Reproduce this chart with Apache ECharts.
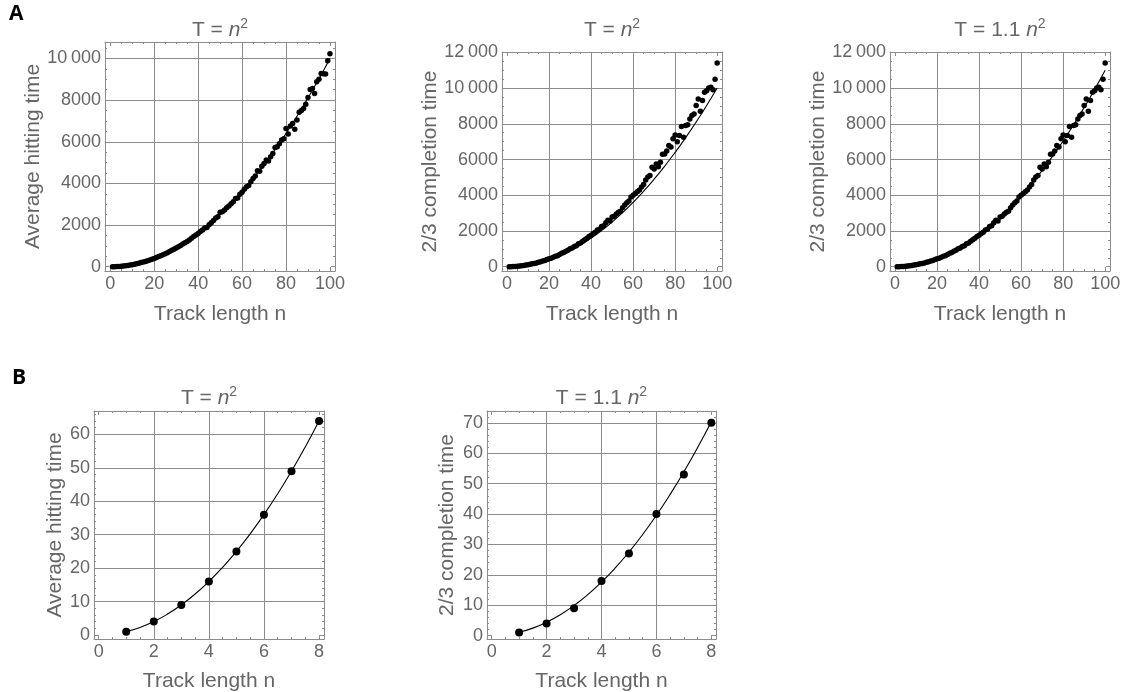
<!doctype html>
<html>
<head>
<meta charset="utf-8">
<title>Hitting and completion time vs track length</title>
<style>
  html, body { margin: 0; padding: 0; background: #fff; }
  #main { width: 1122px; height: 692px; }
</style>
</head>
<body>
<div id="main"></div>
<script src="https://cdn.jsdelivr.net/npm/echarts@6.0.0/dist/echarts.min.js"></script>
<script>
var chart = echarts.init(document.getElementById('main'));

// ---- data ----
var trackLength = [1, 2, 3, 4, 5, 6, 7, 8, 9, 10, 11, 12, 13, 14, 15, 16, 17, 18, 19, 20,
    21, 22, 23, 24, 25, 26, 27, 28, 29, 30, 31, 32, 33, 34, 35, 36, 37, 38, 39, 40,
    41, 42, 43, 44, 45, 46, 47, 48, 49, 50, 51, 52, 53, 54, 55, 56, 57, 58, 59, 60,
    61, 62, 63, 64, 65, 66, 67, 68, 69, 70, 71, 72, 73, 74, 75, 76, 77, 78, 79, 80,
    81, 82, 83, 84, 85, 86, 87, 88, 89, 90, 91, 92, 93, 94, 95, 96, 97, 98, 99, 100];
var hittingTime = [1, 4, 9, 16, 25, 36, 49, 64, 81, 100, 121, 145, 168, 197, 226, 256, 290, 322, 362, 398,
    442, 486, 528, 575, 626, 674, 730, 786, 838, 903, 960, 1022, 1085, 1152, 1215, 1282, 1365, 1448, 1526, 1598,
    1690, 1762, 1860, 1880, 2010, 2110, 2215, 2335, 2400, 2610, 2640, 2720, 2830, 2920, 3020, 3120, 3280, 3300, 3480, 3580,
    3720, 3840, 3900, 4080, 4230, 4350, 4610, 4580, 4820, 4950, 5120, 5080, 5280, 5440, 5730, 5760, 5900, 6080, 6150, 6640,
    6370, 6760, 6880, 6600, 7040, 7420, 7500, 7600, 7800, 8130, 8510, 8560, 8320, 8880, 9000, 9280, 9260, 9250, 9890, 10230];
var completionTime = [1, 4, 9, 18, 27, 40, 53, 70, 89, 110, 133, 160, 186, 214, 250, 280, 320, 352, 400, 440,
    480, 535, 580, 620, 690, 750, 800, 865, 920, 1000, 1050, 1130, 1180, 1280, 1330, 1420, 1510, 1600, 1690, 1760,
    1860, 1930, 2060, 2100, 2250, 2300, 2460, 2600, 2560, 2780, 2820, 2950, 3050, 3100, 3300, 3460, 3580, 3680, 3900, 4000,
    4100, 4190, 4300, 4460, 4600, 4850, 5020, 5100, 5570, 5470, 5750, 5600, 5850, 6300, 6310, 6480, 6780, 6700, 7160, 7370,
    7000, 7350, 7850, 7250, 7900, 7950, 8270, 8460, 8550, 9020, 9390, 8700, 9300, 9760, 9850, 10000, 10050, 9900, 10500, 11400];

var trackLengthShort = [1, 2, 3, 4, 5, 6, 7, 8];
var hittingTimeShort = [1, 4, 9, 16, 25, 36, 49, 64];
var completionTimeShort = [1, 4, 9, 18, 27, 40, 53, 70];

// reference curves T = n^2 and T = 1.1 n^2
var curveN = [0, 5, 10, 15, 20, 25, 30, 35, 40, 45, 50, 55, 60, 65, 70, 75, 80, 85, 90, 95, 100];
var curveSquare = [0, 25, 100, 225, 400, 625, 900, 1225, 1600, 2025, 2500, 3025, 3600, 4225, 4900, 5625, 6400, 7225, 8100, 9025, 10000];
var curveSquare11 = [0, 27.5, 110, 247.5, 440, 687.5, 990, 1347.5, 1760, 2227.5, 2750, 3327.5, 3960, 4647.5, 5390, 6187.5, 7040, 7947.5, 8910, 9927.5, 11000];
var curveNShort = [1, 1.5, 2, 2.5, 3, 3.5, 4, 4.5, 5, 5.5, 6, 6.5, 7, 7.5, 8];
var curveSquareShort = [1, 2.25, 4, 6.25, 9, 12.25, 16, 20.25, 25, 30.25, 36, 42.25, 49, 56.25, 64];
var curveSquare11Short = [1.1, 2.475, 4.4, 6.875, 9.9, 13.475, 17.6, 22.275, 27.5, 33.275, 39.6, 46.475, 53.9, 61.875, 70.4];

// tick labels
var xTicksLong = [0, 20, 40, 60, 80, 100];
var yTicksHitting = [0, 2000, 4000, 6000, 8000, 10000];
var yTicksCompletion = [0, 2000, 4000, 6000, 8000, 10000, 12000];
var xTicksShort = [0, 2, 4, 6, 8];
var yTicksHittingShort = [0, 10, 20, 30, 40, 50, 60];
var yTicksCompletionShort = [0, 10, 20, 30, 40, 50, 60, 70];

// ---- styling ----
var FONT = '"Liberation Sans", Arial, sans-serif';
var TEXT = '#666';
var FRAME = '#8c8c8c';
var GRIDC = '#8c8c8c';
var TITLE_SQ = '{t|T = }{i|n}{s|2}';
var TITLE_SQ11 = '{t|T = 1.1 }{i|n}{s|2}';

function stepValues(min, max, step) {
    var out = [];
    for (var k = Math.ceil(min / step - 1e-9); k * step <= max + 1e-9; k++) {
        out.push(+(k * step).toFixed(6));
    }
    return out;
}
function pairs(xs, ys) {
    return xs.map(function (x, k) { return [x, ys[k]]; });
}
function fmt(v) {
    return v >= 10000 ? String(v).replace(/(\d{3})$/, '\u2009$1') : String(v);
}

var panels = [
    { left: 105, top: 42, width: 230, height: 229, x: [-2.4, 102.3], y: [-206, 10790],
      xTicks: xTicksLong, yTicks: yTicksHitting, xMinor: 5, yMinor: 500,
      yName: 'Average hitting time', yGap: 60, xGap: 33, title: TITLE_SQ, titleTop: 17,
      dots: pairs(trackLength, hittingTime), curve: pairs(curveN, curveSquare), dot: 5.5 },
    { left: 502, top: 52, width: 220, height: 219, x: [-2.4, 102.3], y: [-240, 12020],
      xTicks: xTicksLong, yTicks: yTicksCompletion, xMinor: 5, yMinor: 500,
      yName: '2/3 completion time', yGap: 58, xGap: 33, title: TITLE_SQ, titleTop: 17,
      dots: pairs(trackLength, completionTime), curve: pairs(curveN, curveSquare), dot: 5.5 },
    { left: 890, top: 52, width: 220, height: 219, x: [-2.4, 102.3], y: [-240, 12020],
      xTicks: xTicksLong, yTicks: yTicksCompletion, xMinor: 5, yMinor: 500,
      yName: '2/3 completion time', yGap: 60, xGap: 33, title: TITLE_SQ11, titleTop: 17,
      dots: pairs(trackLength, completionTime), curve: pairs(curveN, curveSquare11), dot: 5.5 },
    { left: 94, top: 411, width: 230, height: 228, x: [-0.17, 8.18], y: [-1.2, 67],
      xTicks: xTicksShort, yTicks: yTicksHittingShort, xMinor: 0.5, yMinor: 2,
      yName: 'Average hitting time', yGap: 28, xGap: 32, title: TITLE_SQ, titleTop: 385,
      dots: pairs(trackLengthShort, hittingTimeShort), curve: pairs(curveNShort, curveSquareShort), dot: 8 },
    { left: 487, top: 411, width: 229, height: 228, x: [-0.17, 8.17], y: [-1.1, 73.9],
      xTicks: xTicksShort, yTicks: yTicksCompletionShort, xMinor: 0.5, yMinor: 2,
      yName: '2/3 completion time', yGap: 29, xGap: 32, title: TITLE_SQ11, titleTop: 385,
      dots: pairs(trackLengthShort, completionTimeShort), curve: pairs(curveNShort, curveSquare11Short), dot: 8 }
];

function makeAxis(gridIndex, range, position, o) {
    return {
        type: 'value', gridIndex: gridIndex, position: position,
        min: range[0], max: range[1],
        axisLine: { show: !!o.line, onZero: false, lineStyle: { color: FRAME, width: 1 } },
        axisTick: { show: !!o.len, customValues: o.ticks || [], inside: true, length: o.len || 0,
                    lineStyle: { color: FRAME, width: 1 } },
        axisLabel: o.labels ? { show: true, customValues: o.labels, formatter: fmt, color: TEXT,
                                fontSize: 18, fontFamily: FONT, margin: 4 } : { show: false },
        splitLine: { show: !!o.split, lineStyle: { color: GRIDC, width: 1 } },
        minorTick: { show: false },
        minorSplitLine: { show: false },
        name: o.name || '', nameLocation: 'middle', nameGap: o.gap || 0,
        nameTextStyle: { color: TEXT, fontSize: 21, fontFamily: FONT }
    };
}

var grids = [], xAxes = [], yAxes = [], series = [], titles = [];

panels.forEach(function (p, i) {
    grids.push({ left: p.left, top: p.top, width: p.width, height: p.height,
                 outerBoundsMode: 'none', containLabel: false });

    var xMinorVals = stepValues(p.x[0], p.x[1], p.xMinor);
    var yMinorVals = stepValues(p.y[0], p.y[1], p.yMinor);
    var xLast = p.xTicks[p.xTicks.length - 1];
    var xGrid = p.xTicks.filter(function (v) { return v > 0 && v < xLast; });
    var yGrid = p.yTicks.filter(function (v) { return v > 0; });

    xAxes.push(
        makeAxis(i, p.x, 'bottom', { line: true, ticks: p.xTicks, len: 4, labels: p.xTicks,
                                     name: 'Track length n', gap: p.xGap }),
        makeAxis(i, p.x, 'bottom', { ticks: xMinorVals, len: 2 }),
        makeAxis(i, p.x, 'top', { line: true, ticks: p.xTicks, len: 4 }),
        makeAxis(i, p.x, 'top', { ticks: xMinorVals, len: 2 }),
        makeAxis(i, p.x, 'bottom', { ticks: xGrid, split: true })
    );
    yAxes.push(
        makeAxis(i, p.y, 'left', { line: true, ticks: p.yTicks, len: 4, labels: p.yTicks,
                                   name: p.yName, gap: p.yGap }),
        makeAxis(i, p.y, 'left', { ticks: yMinorVals, len: 2 }),
        makeAxis(i, p.y, 'right', { line: true, ticks: p.yTicks, len: 4 }),
        makeAxis(i, p.y, 'right', { ticks: yMinorVals, len: 2 }),
        makeAxis(i, p.y, 'left', { ticks: yGrid, split: true })
    );

    series.push({
        type: 'line', xAxisIndex: i * 5, yAxisIndex: i * 5, data: p.curve,
        showSymbol: false, smooth: true, silent: true,
        lineStyle: { color: '#000', width: 1.1 }, z: 3
    }, {
        type: 'scatter', xAxisIndex: i * 5, yAxisIndex: i * 5, data: p.dots,
        symbolSize: p.dot, itemStyle: { color: '#000', opacity: 1 }, z: 4
    });

    titles.push({
        text: p.title, left: p.left + p.width / 2, top: p.titleTop, textAlign: 'center', padding: 0,
        textStyle: {
            fontWeight: 'normal',
            rich: {
                t: { fontSize: 21, lineHeight: 26, color: TEXT, fontFamily: FONT, fontWeight: 'normal' },
                i: { fontSize: 21, lineHeight: 26, color: TEXT, fontFamily: FONT, fontWeight: 'normal', fontStyle: 'italic' },
                s: { fontSize: 14, lineHeight: 14, color: TEXT, fontFamily: FONT, fontWeight: 'normal', verticalAlign: 'top' }
            }
        }
    });
});

titles.push(
    { text: 'A', left: 9, top: 4, padding: 0,
      textStyle: { fontSize: 21, fontWeight: 'bold', color: '#000', fontFamily: '"Open Sans", sans-serif' } },
    { text: 'B', left: 12, top: 368, padding: 0,
      textStyle: { fontSize: 21, fontWeight: 'bold', color: '#000', fontFamily: '"Open Sans", sans-serif' } }
);

chart.setOption({
    animation: false,
    backgroundColor: '#fff',
    title: titles,
    grid: grids,
    xAxis: xAxes,
    yAxis: yAxes,
    series: series
});

window.onresize = chart.resize;
</script>
</body>
</html>
